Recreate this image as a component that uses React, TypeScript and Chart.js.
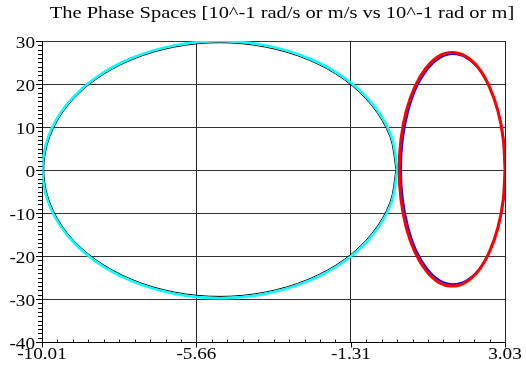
import React, { useEffect, useRef } from "react";
import { Chart, registerables } from "chart.js";

Chart.register(...registerables);

const TITLE = "The Phase Spaces [10^-1 rad/s or m/s vs 10^-1 rad or m]";

const X_MIN = -10.01;
const X_MAX = 3.03;
const X_TICKS = [-10.01, -5.66, -1.31, 3.03];
const X_TICK_LABELS = ["-10.01", "-5.66", "-1.31", "3.03"];

const Y_MIN = -40;
const Y_MAX = 30;
const Y_TICKS = [30, 20, 10, 0, -10, -20, -30, -40];
const Y_TICK_LABELS = ["30", "20", "10", "0", "-10", "-20", "-30", "-40"];

// Cyan trajectory
const CYAN_X = [0.0, -0.17, -0.67, -1.46, -2.5, -3.71, -5.0, -6.29, -7.5, -8.54, -9.33, -9.83, -10.0, -9.83, -9.33, -8.54, -7.5, -6.29, -5.0, -3.71, -2.5, -1.46, -0.67, -0.17, 0.0];
const CYAN_Y = [0.1, 7.84, 15.05, 21.24, 25.99, 28.98, 30.0, 28.98, 25.99, 21.24, 15.05, 7.84, 0.1, -7.64, -14.85, -21.04, -25.79, -28.78, -29.8, -28.78, -25.79, -21.04, -14.85, -7.64, 0.1];

// Black trajectory under the cyan one
const BLACK_X = [-0.04, -0.21, -0.71, -1.49, -2.52, -3.72, -5.0, -6.28, -7.48, -8.51, -9.3, -9.79, -9.96, -9.79, -9.3, -8.51, -7.48, -6.28, -5.0, -3.72, -2.52, -1.49, -0.71, -0.21, -0.04];
const BLACK_Y = [0.1, 7.73, 14.85, 20.96, 25.65, 28.59, 29.6, 28.59, 25.65, 20.96, 14.85, 7.73, 0.1, -7.53, -14.65, -20.76, -25.45, -28.39, -29.4, -28.39, -25.45, -20.76, -14.65, -7.53, 0.1];

// Red trajectory
const RED_X = [3.03, 2.98, 2.83, 2.59, 2.29, 1.93, 1.54, 1.15, 0.8, 0.49, 0.25, 0.1, 0.05, 0.1, 0.25, 0.49, 0.8, 1.15, 1.54, 1.93, 2.29, 2.59, 2.83, 2.98, 3.03];
const RED_Y = [0.15, 7.18, 13.73, 19.35, 23.66, 26.37, 27.3, 26.37, 23.66, 19.35, 13.73, 7.18, 0.15, -6.88, -13.43, -19.05, -23.36, -26.07, -27.0, -26.07, -23.36, -19.05, -13.43, -6.88, 0.15];

// Blue trajectory under the red one
const BLUE_X = [3.04, 2.99, 2.84, 2.61, 2.31, 1.95, 1.57, 1.19, 0.84, 0.53, 0.3, 0.15, 0.1, 0.15, 0.3, 0.53, 0.84, 1.19, 1.57, 1.95, 2.31, 2.61, 2.84, 2.99, 3.04];
const BLUE_Y = [0.2, 7.12, 13.58, 19.12, 23.37, 26.04, 26.95, 26.04, 23.37, 19.12, 13.58, 7.12, 0.2, -6.72, -13.18, -18.72, -22.97, -25.64, -26.55, -25.64, -22.97, -18.72, -13.18, -6.72, 0.2];

const toPoints = (xs: number[], ys: number[]) => xs.map((x, i) => ({ x, y: ys[i] }));

const W = 526;
const H = 374;
const FONT = '16px "Liberation Serif", "Times New Roman", serif';
const SX_TITLE = 1.28;
const SX_LABEL = 1.2;

function stretchedText(ctx: CanvasRenderingContext2D, text: string, x: number, y: number, align: CanvasTextAlign, sx: number) {
  ctx.save();
  ctx.translate(x, y);
  ctx.scale(sx, 1);
  ctx.textAlign = align;
  ctx.textBaseline = "alphabetic";
  ctx.fillText(text, 0, 0);
  ctx.restore();
}

const axisPlugin = {
  id: "axisDeco",
  afterDraw(chart: any) {
    const ctx: CanvasRenderingContext2D = chart.ctx;
    const xs = chart.scales.x;
    const ys = chart.scales.y;
    const { left, bottom } = chart.chartArea;
    ctx.save();
    ctx.strokeStyle = "#000";
    ctx.lineWidth = 1;
    for (let v = Y_MIN; v <= Y_MAX; v++) {
      const y = Math.round(ys.getPixelForValue(v)) + 0.5;
      const len = v % 10 === 0 ? 6 : 4;
      ctx.beginPath();
      ctx.moveTo(Math.round(left) - len, y);
      ctx.lineTo(Math.round(left) + 0.5, y);
      ctx.stroke();
    }
    const b = Math.round(bottom) + 0.5;
    for (let i = 0; i < X_TICKS.length; i++) {
      const x = Math.round(xs.getPixelForValue(X_TICKS[i])) + 0.5;
      ctx.beginPath();
      ctx.moveTo(x, b);
      ctx.lineTo(x, b + 5);
      ctx.stroke();
      if (i < X_TICKS.length - 1) {
        const step = (X_TICKS[i + 1] - X_TICKS[i]) / 10;
        for (let k = 1; k < 10; k++) {
          const mx = Math.round(xs.getPixelForValue(X_TICKS[i] + k * step)) + 0.5;
          ctx.beginPath();
          ctx.moveTo(mx, b);
          ctx.lineTo(mx, b - 3);
          ctx.stroke();
        }
      }
    }
    ctx.fillStyle = "#000";
    ctx.font = FONT;
    for (let i = 0; i < Y_TICKS.length; i++) {
      const y = ys.getPixelForValue(Y_TICKS[i]);
      stretchedText(ctx, Y_TICK_LABELS[i], left - 7, y + 7, "right", SX_LABEL);
    }
    for (let i = 0; i < X_TICKS.length; i++) {
      const x = xs.getPixelForValue(X_TICKS[i]);
      stretchedText(ctx, X_TICK_LABELS[i], x, bottom + 17, "center", SX_LABEL);
    }
    stretchedText(ctx, TITLE, 282, 18, "center", SX_TITLE);
    ctx.restore();
  },
};

export default function App() {
  const ref = useRef<HTMLCanvasElement | null>(null);

  useEffect(() => {
    if (!ref.current) return;
    const common = { pointRadius: 0, tension: 0.34, fill: false };
    const chart = new Chart(ref.current, {
      type: "line",
      data: {
        datasets: [
          { ...common, label: "red", data: toPoints(RED_X, RED_Y), borderColor: "#ff0000", borderWidth: 3 },
          { ...common, label: "blue", data: toPoints(BLUE_X, BLUE_Y), borderColor: "#0000ff", borderWidth: 2 },
          { ...common, label: "cyan", data: toPoints(CYAN_X, CYAN_Y), borderColor: "#00ffff", borderWidth: 2.5 },
          { ...common, label: "black", data: toPoints(BLACK_X, BLACK_Y), borderColor: "#000000", borderWidth: 1 },
        ],
      },
      options: {
        responsive: false,
        animation: false,
        devicePixelRatio: 1,
        layout: { padding: { top: 41, right: 21, bottom: 0, left: 0 } },
        plugins: {
          legend: { display: false },
          title: { display: false },
          tooltip: { enabled: false },
        },
        scales: {
          x: {
            type: "linear",
            min: X_MIN,
            max: X_MAX,
            afterBuildTicks: (scale: any) => {
              scale.ticks = X_TICKS.map((v) => ({ value: v }));
            },
            afterFit: (scale: any) => {
              scale.height = 32;
            },
            ticks: { display: false },
            grid: { color: "#222", lineWidth: 1, drawTicks: false },
            border: { display: true, color: "#000", width: 1 },
          },
          y: {
            type: "linear",
            min: Y_MIN,
            max: Y_MAX,
            afterBuildTicks: (scale: any) => {
              scale.ticks = Y_TICKS.map((v) => ({ value: v }));
            },
            afterFit: (scale: any) => {
              scale.width = 42;
            },
            ticks: { display: false },
            grid: { color: "#333", lineWidth: 1, drawTicks: false },
            border: { display: true, color: "#000", width: 1 },
          },
        },
      },
      plugins: [axisPlugin],
    });
    return () => chart.destroy();
  }, []);

  return (
    <div style={{ position: "absolute", left: 0, top: 0, width: W, height: H, background: "#fff" }}>
      <canvas ref={ref} width={W} height={H} style={{ width: W, height: H, display: "block" }} />
    </div>
  );
}
